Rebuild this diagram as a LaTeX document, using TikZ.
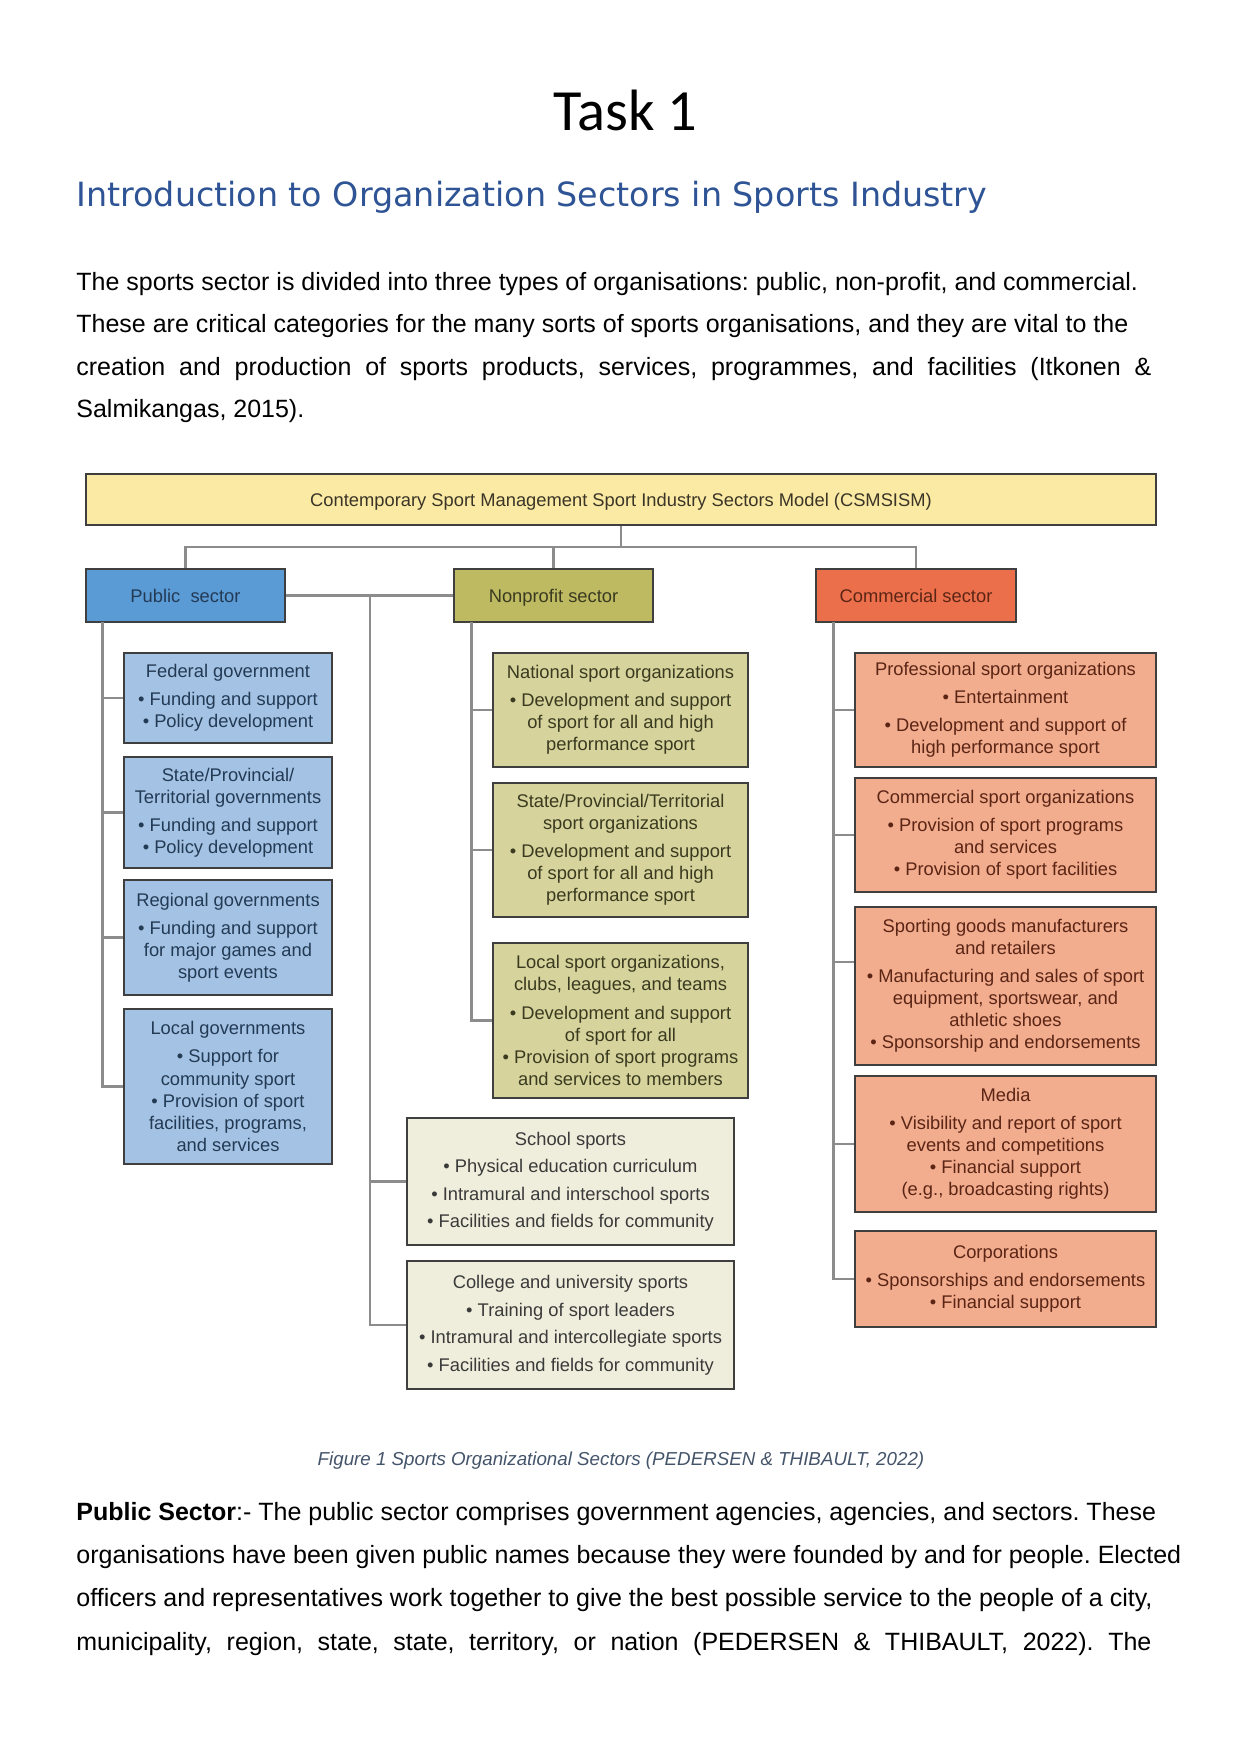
\documentclass[tikz,border=0pt]{standalone}
\usepackage{fontspec}
\setmainfont{Liberation Sans}
\newfontfamily\titlefont{Carlito}
\newfontfamily\headfont{DejaVu Sans}
\frenchspacing
\definecolor{topfill}{HTML}{FAEAA3}
\definecolor{toptext}{HTML}{3B3528}
\definecolor{pubfill}{HTML}{5B9BD5}
\definecolor{pubsubfill}{HTML}{A4C3E4}
\definecolor{pubtext}{HTML}{233A55}
\definecolor{npfill}{HTML}{BDBA62}
\definecolor{npsubfill}{HTML}{D6D49C}
\definecolor{nptext}{HTML}{3A3A20}
\definecolor{schfill}{HTML}{EFEEDC}
\definecolor{schtext}{HTML}{3A3A3A}
\definecolor{comfill}{HTML}{EC6F4B}
\definecolor{comsubfill}{HTML}{F2AC8E}
\definecolor{comtext}{HTML}{5B2515}
\definecolor{boxline}{HTML}{3F3F3F}
\definecolor{connline}{HTML}{8C8C8C}
\definecolor{headblue}{HTML}{2F5496}
\definecolor{captiongray}{HTML}{44546A}
\tikzset{
  box/.style={draw=boxline, line width=1pt, align=center, inner sep=0pt,
    font=\fontsize{8.8}{10.6}\selectfont},
  sector/.style={box, minimum width={199*0.48pt}, minimum height={53*0.48pt}},
  pubsub/.style={box, fill=pubsubfill, text=pubtext, minimum width={208*0.48pt}},
  npsub/.style={box, fill=npsubfill, text=nptext, minimum width={255*0.48pt}},
  schsub/.style={box, fill=schfill, text=schtext, minimum width={327*0.48pt},
    font=\fontsize{8.8}{13.2}\selectfont},
  comsub/.style={box, fill=comsubfill, text=comtext, minimum width={301*0.48pt}},
  conn/.style={draw=connline, line width=1pt},
  bodyline/.style={anchor=base west, inner sep=0pt, font=\fontsize{12}{14}\selectfont},
}
\newcommand{\gap}{\\[2.9pt]}
\newcommand{\bul}{•\ }
\newcommand{\labstrut}{\rule[-2.4pt]{0pt}{11.9pt}}
\begin{document}
\begin{tikzpicture}[x=0.48pt, y=-0.48pt]
\useasboundingbox[fill=white] (0,0) rectangle (1241,1754);

% ---------- page text ----------
\node[anchor=base, inner sep=0pt, font=\titlefont\fontsize{28}{34}\selectfont] (title) at (625.5,130) {Task 1};
\node[anchor=base west, inner sep=0pt, text=headblue, font=\headfont\fontsize{16}{19}\selectfont] (head) at (76,206.7) {Introduction to Organization Sectors in Sports Industry};

\node[bodyline] (p1) at (76,290) {The sports sector is divided into three types of organisations: public, non-profit, and commercial.};
\node[bodyline] (p2) at (76,332.5) {These are critical categories for the many sorts of sports organisations, and they are vital to the};
\node[bodyline] (p3) at (76,375) {\makebox[516pt][s]{creation and production of sports products, services, programmes, and facilities (Itkonen \&}};
\node[bodyline] (p4) at (76,417.5) {Salmikangas, 2015).};

% ---------- diagram ----------
\node[box, fill=topfill, text=toptext, minimum width={1070*0.48pt}, minimum height={51*0.48pt}] (top) at (621,499.5) {\labstrut Contemporary Sport Management Sport Industry Sectors Model (CSMSISM)};

\node[sector, fill=pubfill, text=pubtext] (pub) at (185.5,595.5) {\labstrut Public\ \ sector};
\node[sector, fill=npfill, text=nptext] (np) at (553.5,595.5) {\labstrut Nonprofit sector};
\node[sector, fill=comfill, text=comtext, minimum width={200*0.48pt}] (com) at (916,595.5) {\labstrut Commercial sector};

% public sector boxes
\node[pubsub, minimum height={90*0.48pt}] (fed) at (228,698) {Federal government\gap \bul Funding and support\\ \bul Policy development};
\node[pubsub, minimum height={111*0.48pt}] (stp) at (228,812.5) {State/Provincial/\\ Territorial governments\gap \bul Funding and support\\ \bul Policy development};
\node[pubsub, minimum height={115*0.48pt}] (reg) at (228,937.5) {Regional governments\gap \bul Funding and support\\ for major games and\\ sport events};
\node[pubsub, minimum height={155*0.48pt}] (loc) at (228,1086.5) {Local governments\gap \bul Support for\\ community sport\\ \bul Provision of sport\\ facilities, programs,\\ and services};

% nonprofit sector boxes
\node[npsub, minimum height={114*0.48pt}] (nat) at (620.5,710) {National sport organizations\gap \bul Development and support\\ of sport for all and high\\ performance sport};
\node[npsub, minimum height={134*0.48pt}] (nst) at (620.5,850) {State/Provincial/Territorial\\ sport organizations\gap \bul Development and support\\ of sport for all and high\\ performance sport};
\node[npsub, minimum height={155*0.48pt}] (nlo) at (620.5,1020.5) {Local sport organizations,\\ clubs, leagues, and teams\gap \bul Development and support\\ of sport for all\\ \bul Provision of sport programs\\ and services to members};
\node[schsub, minimum height={127*0.48pt}] (sch) at (570.5,1181.5) {School sports\\ \bul Physical education curriculum\\ \bul Intramural and interschool sports\\ \bul Facilities and fields for community};
\node[schsub, minimum height={128*0.48pt}] (col) at (570.5,1325) {College and university sports\\ \bul Training of sport leaders\\ \bul Intramural and intercollegiate sports\\ \bul Facilities and fields for community};

% commercial sector boxes
\node[comsub, minimum height={114*0.48pt}] (pro) at (1005.5,710) {Professional sport organizations\gap \bul Entertainment\gap \bul Development and support of\\ high performance sport};
\node[comsub, minimum height={114*0.48pt}] (cso) at (1005.5,835) {Commercial sport organizations\gap \bul Provision of sport programs\\ and services\\ \bul Provision of sport facilities};
\node[comsub, minimum height={158*0.48pt}] (spo) at (1005.5,986) {Sporting goods manufacturers\\ and retailers\gap \bul Manufacturing and sales of sport\\ equipment, sportswear, and\\ athletic shoes\\ \bul Sponsorship and endorsements};
\node[comsub, minimum height={136*0.48pt}] (med) at (1005.5,1144) {Media\gap \bul Visibility and report of sport\\ events and competitions\\ \bul Financial support\\ (e.g., broadcasting rights)};
\node[comsub, minimum height={96*0.48pt}] (cor) at (1005.5,1279) {Corporations\gap \bul Sponsorships and endorsements\\ \bul Financial support};

% connectors
\coordinate (bus) at (621,547);
\coordinate (pubtrunk) at (102.5,622);
\coordinate (nptrunk) at (471.5,622);
\coordinate (comtrunk) at (833.5,622);
\coordinate (midtrunk) at (370,595.5);

\draw[conn] (top.south) -- (bus);
\draw[conn] (pub.north) |- (bus) -| (com.north);
\draw[conn] (np.north) -- (np.north |- bus);
\draw[conn] (pub.east) -- (np.west);

\draw[conn] (pubtrunk) |- (fed.west);
\draw[conn] (pubtrunk) |- (stp.west);
\draw[conn] (pubtrunk) |- (reg.west);
\draw[conn] (pubtrunk) |- (loc.west);

\draw[conn] (nptrunk) |- (nat.west);
\draw[conn] (nptrunk) |- (nst.west);
\draw[conn] (nptrunk) |- (nlo.west);

\draw[conn] (midtrunk) |- (sch.west);
\draw[conn] (midtrunk) |- (col.west);

\draw[conn] (comtrunk) |- (pro.west);
\draw[conn] (comtrunk) |- (cso.west);
\draw[conn] (comtrunk) |- ([yshift=11.5pt]spo.west);
\draw[conn] (comtrunk) |- (med.west);
\draw[conn] (comtrunk) |- (cor.west);

% ---------- caption and following text ----------
\node[anchor=base, inner sep=0pt, text=captiongray, font=\itshape\fontsize{9}{11}\selectfont] (cap) at (621,1465) {Figure 1 Sports Organizational Sectors (PEDERSEN \& THIBAULT, 2022)};

\node[bodyline] (q1) at (76,1520) {\textbf{Public Sector}:- The public sector comprises government agencies, agencies, and sectors. These};
\node[bodyline] (q2) at (76,1563) {organisations have been given public names because they were founded by and for people. Elected};
\node[bodyline] (q3) at (76,1606.5) {officers and representatives work together to give the best possible service to the people of a city,};
\node[bodyline] (q4) at (76,1650) {\makebox[516pt][s]{municipality, region, state, state, territory, or nation (PEDERSEN \& THIBAULT, 2022). The}};
\end{tikzpicture}
\end{document}
